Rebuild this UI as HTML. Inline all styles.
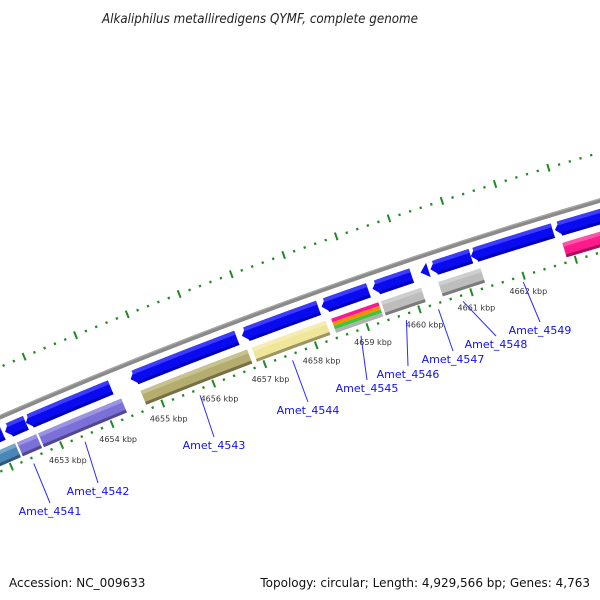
<!DOCTYPE html>
<html><head><meta charset="utf-8"><style>
html,body{margin:0;padding:0;background:#fff;width:600px;height:600px;overflow:hidden}
svg{display:block;font-family:"DejaVu Sans","Liberation Sans",sans-serif}
</style></head><body>
<svg id="map" width="600" height="600" viewBox="0 0 600 600">
<text x="260" y="23" text-anchor="middle" font-size="13" font-style="italic" fill="#222" textLength="316" lengthAdjust="spacingAndGlyphs">Alkaliphilus metalliredigens QYMF, complete genome</text>
<text x="9" y="587" font-size="12" fill="#111">Accession: NC_009633</text>
<text x="590" y="587" text-anchor="end" font-size="12" fill="#111">Topology: circular; Length: 4,929,566 bp; Genes: 4,763</text>
<g id="ticks"></g>
<g id="back"></g>
<g id="genes"></g>
<g id="cogs"></g>
<g id="labels"></g>
</svg>
<script>
// gene (outer ring, blue arrows) start/end in kbp
const geneStarts=[4651.4,4652.15,4652.56,4654.62,4656.79,4658.33,4659.31,4660.23,4660.42,4661.19,4662.79];
const geneEnds=[4652.1,4652.56,4654.23,4656.69,4658.27,4659.23,4660.06,4660.38,4661.19,4662.75,4664.5];
// second ring (COG colored bars)
const cogStarts=[4651.3,4652.27,4652.69,4654.71,4656.88,4658.42,4659.38,4660.48,4662.85];
const cogEnds=[4652.23,4652.65,4654.33,4656.79,4658.31,4659.33,4660.15,4661.29,4664.5];
const cogColors=["#4a86b8","#7b6fd8","#7b6fd8","#b5ad6e","#f0e69a","multi","#bdbdbd","#bdbdbd","#ff1a8c"];
// tick labels (kbp)
const tickLabels=[4653,4654,4655,4656,4657,4658,4659,4660,4661,4662];
// gene labels and their kbp anchor positions
const labelNames=["Amet_4541","Amet_4542","Amet_4543","Amet_4544","Amet_4545","Amet_4546","Amet_4547","Amet_4548","Amet_4549"];
const labelPos=[4652.4,4653.42,4655.69,4657.5,4658.83,4659.71,4660.33,4660.8,4661.96];
// label text layout (screen placement)
const labelX=[50,98,214,308,367,408,453,496,540];
const labelY=[515,495,449,414,392,378,363,348,334];

const NS="http://www.w3.org/2000/svg";
const cx=1995, cy=5003, R=5001;
function ang(k){return (-111.72+(k-4655)*0.633)*Math.PI/180;}
function pt(k,r){const a=ang(k);return [cx+r*Math.cos(a),cy+r*Math.sin(a)];}
function f(p){return p[0].toFixed(2)+","+p[1].toFixed(2);}
function arcPath(k1,k2,r){return "M"+f(pt(k1,r))+"A"+r+","+r+" 0 0 1 "+f(pt(k2,r));}
function band(k1,k2,ro,ri){return "M"+f(pt(k1,ro))+"A"+ro+","+ro+" 0 0 1 "+f(pt(k2,ro))+"L"+f(pt(k2,ri))+"A"+ri+","+ri+" 0 0 0 "+f(pt(k1,ri))+"Z";}
function mk(tag,attrs,parent){const e=document.createElementNS(NS,tag);for(const k in attrs)e.setAttribute(k,attrs[k]);parent.appendChild(e);return e;}

// ticks
const tg=document.getElementById("ticks");
for(let i=0;i<=80;i++){
  const k=4650+i*0.2;
  const major=Math.abs(k-Math.round(k))<1e-6;
  [R+46,R-50].forEach(rc=>{
    const h=major?4:1.2;
    const a=pt(k,rc-h), b=pt(k,rc+h);
    const l=mk("line",{x1:a[0],y1:a[1],x2:b[0],y2:b[1],stroke:"#1f8a1f","stroke-width":major?2:2.2},tg);
    
    
  });
}
tickLabels.forEach(k=>{
  const p=pt(k,R-66);
  const t=mk("text",{x:p[0],y:p[1]+3,"text-anchor":"middle","font-size":"8",fill:"#333"},tg);
  t.textContent=k+" kbp";
  
  
});

// backbone
const bg=document.getElementById("back");
const bb=mk("path",{d:arcPath(4650,4666,R),fill:"none",stroke:"#8a8a8a","stroke-width":4.5},bg);


const bb2=mk("path",{d:arcPath(4650,4666,R+1.5),fill:"none",stroke:"#aaaaaa","stroke-width":1},bg);



// genes (arrows pointing to lower coordinate)
const gg=document.getElementById("genes");
const ro=R-8, ri=R-23, rm=(ro+ri)/2;
geneStarts.forEach((s,i)=>{
  const e=geneEnds[i];
  const len=e-s;
  const head=Math.min(0.12,len*0.5);
  const g=mk("g",{},gg);
  
  
  let d;
  if(len<=0.2){
    d="M"+f(pt(s,rm))+"L"+f(pt(e,ro))+"L"+f(pt(e,ri))+"Z";
  } else {
    d="M"+f(pt(s,rm))+"L"+f(pt(s+head,ro))+"A"+ro+","+ro+" 0 0 1 "+f(pt(e,ro))+"L"+f(pt(e,ri))+"A"+ri+","+ri+" 0 0 0 "+f(pt(s+head,ri))+"Z";
  }
  mk("path",{d:d,fill:"#0a0af0"},g);
  if(len>0.2){
    mk("path",{d:band(s+head*0.6,e,ro,ro-4),fill:"#3c3cff"},g);
    mk("path",{d:band(s+head*0.8,e,ri+3,ri),fill:"#0000b8"},g);
  }
});

// COG ring
const cg=document.getElementById("cogs");
const co=R-30, ci=R-45;
function shade(hex,amt){const n=parseInt(hex.slice(1),16);let r=(n>>16)&255,g=(n>>8)&255,b=n&255;
  const m=c=>Math.max(0,Math.min(255,Math.round(amt>0?c+(255-c)*amt:c*(1+amt))));
  return "rgb("+m(r)+","+m(g)+","+m(b)+")";}
cogStarts.forEach((s,i)=>{
  const e=cogEnds[i], col=cogColors[i];
  const g=mk("g",{},cg);
  
  
  if(col==="multi"){
    const cs=["#ff1493","#ff8c00","#3cc83c","#b0b0b0"];
    const h=(co-ci)/cs.length;
    cs.forEach((c,j)=>mk("path",{d:band(s,e,co-j*h,co-(j+1)*h),fill:c},g));
  } else {
    mk("path",{d:band(s,e,co,ci),fill:col},g);
    mk("path",{d:band(s,e,co,co-4),fill:shade(col,0.25)},g);
    mk("path",{d:band(s,e,ci+3,ci),fill:shade(col,-0.35)},g);
  }
});

// gene labels
const lg=document.getElementById("labels");
labelNames.forEach((n,i)=>{
  const a=pt(labelPos[i],R-56);
  const bx=labelX[i], by=labelY[i]-12;
  const line=mk("line",{x1:a[0],y1:a[1],x2:bx,y2:by,stroke:"#2a2aff","stroke-width":1},lg);
  
  
  const t=mk("text",{x:labelX[i],y:labelY[i],"text-anchor":"middle","font-size":"11",fill:"#1010f0"},lg);
  t.textContent=n;
  
  
});
</script>
</body></html>
